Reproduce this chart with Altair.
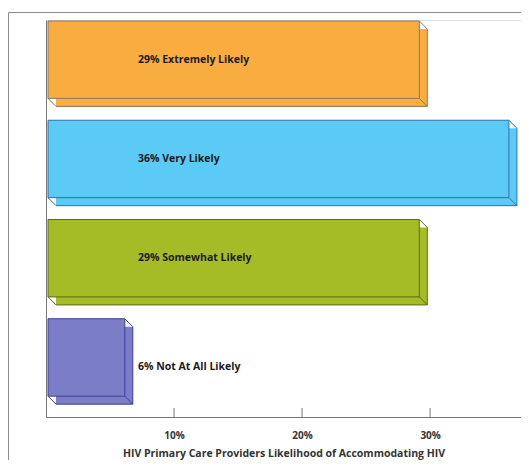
import altair as alt
import pandas as pd

categories = ["Extremely Likely", "Very Likely", "Somewhat Likely", "Not At All Likely"]
values = [29, 36, 29, 6]
tick_values = [10, 20, 30]
fill_colors = ["#F9AD3F", "#5BCBF5", "#A6BC26", "#7B7EC6"]
edge_colors = ["#8A7768", "#2F6FA8", "#5E6B1A", "#3B3E9E"]

rows = []
for i, (c, v) in enumerate(zip(categories, values)):
    rows.append({
        "cat": c, "value": v, "start": 0,
        "top": i + 0.01, "bottom": i + 0.79, "mid": i + 0.40,
        "label": f"{v}% {c}",
    })
df = pd.DataFrame(rows)
ticks_df = pd.DataFrame({"t": tick_values})

W, H = 475, 397
xscale = alt.Scale(domain=[0, 37.1], nice=False, zero=True)
yscale = alt.Scale(domain=[0, 4], reverse=True, nice=False, zero=True)
fill_scale = alt.Scale(domain=categories, range=fill_colors)
edge_scale = alt.Scale(domain=categories, range=edge_colors)
FONT = "Open Sans"

base = alt.Chart(df)

x_axis = alt.Axis(
    values=tick_values, ticks=False, grid=False, labelExpr="datum.value + '%'",
    domainColor="#777777", domainWidth=1, labelFont=FONT, labelFontSize=10,
    labelFontWeight="bold", labelColor="#333333", labelPadding=13,
    title="HIV Primary Care Providers Likelihood of Accommodating HIV",
    titleFont=FONT, titleFontSize=10.5, titleFontWeight="bold",
    titleColor="#333333", titlePadding=8,
)
y_axis = alt.Axis(labels=False, ticks=False, grid=False, title=None,
                  domainColor="#777777", domainWidth=1)

X0 = alt.X("start:Q", scale=xscale, axis=x_axis)
XV = alt.X("value:Q", scale=xscale, axis=x_axis)
Y_top = alt.Y("top:Q", scale=yscale, axis=y_axis)
Y_bot = alt.Y("bottom:Q", scale=yscale, axis=y_axis)

frame = alt.Chart(pd.DataFrame({"a": [0]})).mark_rect(
    fill="white", fillOpacity=0, stroke="#8C8C8C", strokeWidth=1
).encode(x=alt.value(-37.5), x2=alt.value(540), y=alt.value(-7.5), y2=alt.value(470))

back = base.mark_rect(xOffset=10, x2Offset=10, yOffset=8, y2Offset=8).encode(
    x=X0, x2="value:Q", y=Y_top, y2="bottom:Q",
    fill=alt.Fill("cat:N", scale=fill_scale, legend=None),
)
front = base.mark_rect(xOffset=2, x2Offset=2, strokeWidth=1).encode(
    x=X0, x2="value:Q", y=Y_top, y2="bottom:Q",
    fill=alt.Fill("cat:N", scale=fill_scale, legend=None),
    stroke=alt.Stroke("cat:N", scale=edge_scale, legend=None),
)
stroke_enc = alt.Stroke("cat:N", scale=edge_scale, legend=None)

back_right = base.mark_rule(xOffset=10, yOffset=8, y2Offset=8, strokeWidth=1).encode(
    x=XV, y=Y_top, y2="bottom:Q", stroke=stroke_enc)
back_bottom = base.mark_rule(xOffset=10, x2Offset=10, yOffset=8, strokeWidth=1).encode(
    x=X0, x2="value:Q", y=Y_bot, stroke=stroke_enc)
diag_tr = base.mark_rule(xOffset=2, x2Offset=10, yOffset=0, y2Offset=8, strokeWidth=1).encode(
    x=XV, x2="value:Q", y=Y_top, y2="top:Q", stroke=stroke_enc)
diag_br = base.mark_rule(xOffset=2, x2Offset=10, yOffset=0, y2Offset=8, strokeWidth=1).encode(
    x=XV, x2="value:Q", y=Y_bot, y2="bottom:Q", stroke=stroke_enc)
diag_bl = base.mark_rule(xOffset=2, x2Offset=10, yOffset=0, y2Offset=8, strokeWidth=1).encode(
    x=X0, x2="start:Q", y=Y_bot, y2="bottom:Q", stroke=stroke_enc)

labels_big = base.transform_filter("datum.value >= 10").mark_text(
    align="left", baseline="middle", font=FONT, fontSize=10.5, fontWeight="bold", color="#1A1A24"
).encode(x=alt.value(92), y=alt.Y("mid:Q", scale=yscale, axis=y_axis), text="label:N")
labels_small = base.transform_filter("datum.value < 10").mark_text(
    align="left", baseline="middle", font=FONT, fontSize=10.5, fontWeight="bold", color="#1A1A24", dy=10
).encode(x=alt.value(92), y=alt.Y("mid:Q", scale=yscale, axis=y_axis), text="label:N")

tick_marks = alt.Chart(ticks_df).mark_rule(color="#777777", strokeWidth=1).encode(
    x=alt.X("t:Q", scale=xscale, axis=x_axis), y=alt.value(H - 9), y2=alt.value(H))

chart = alt.layer(
    frame, back, back_right, back_bottom, diag_tr, diag_br, diag_bl, front,
    labels_big, labels_small, tick_marks,
).properties(
    width=W, height=H,
    autosize=alt.AutoSizeParams(type="none"),
    padding={"left": 38, "top": 12, "right": 0, "bottom": 43},
).configure_view(stroke=None).configure(background="white")

chart.save("out.html", embed_options={"renderer": "svg", "actions": False})
